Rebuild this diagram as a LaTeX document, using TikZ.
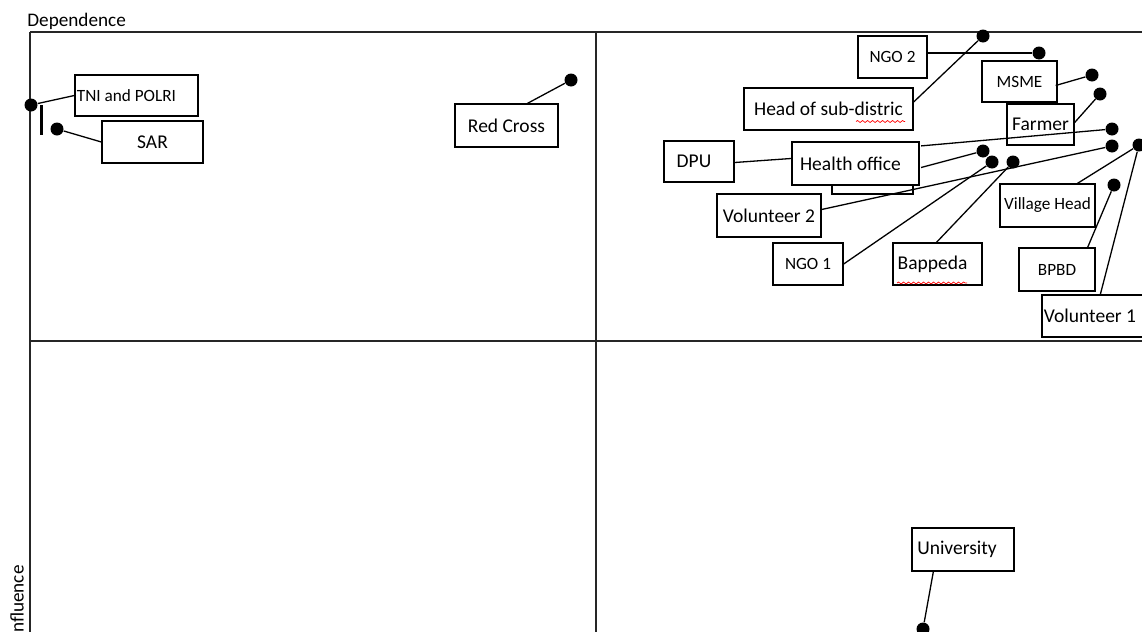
\documentclass[tikz,border=0pt]{standalone}
\usepackage{fontspec}
\setmainfont{Carlito}
\usetikzlibrary{calc,decorations.pathmorphing}
\newcommand{\padr}[1]{\rule{#1}{0pt}}
\begin{document}
\begin{tikzpicture}[x=0.5pt,y=-0.5pt,
  box/.style={draw, line width=0.65pt, inner sep=0pt, font=\fontsize{9.75}{11}\selectfont},
  sbox/.style={box, font=\fontsize{8.6}{10}\selectfont},
  dot/.style={circle, fill, inner sep=0pt, minimum size=6.5pt},
  con/.style={line width=0.65pt},
  gridline/.style={line width=0.6pt, draw=black!85},
  axislabel/.style={font=\fontsize{9.6}{11}\selectfont, inner sep=0pt},
  spell/.style={draw=red, line width=0.35pt, decorate, decoration={snake, amplitude=0.5pt, segment length=2.5pt}}]
\useasboundingbox (0,0) rectangle (1142,632);
% grid
\draw[gridline] (30,32) -- (1142,32);
\draw[gridline] (30,32) -- (30,632);
\draw[gridline] (596,32) -- (596,632);
\draw[gridline] (30,341) -- (1142,341);
% axis labels
\node[axislabel, anchor=west] (dep) at (27,21) {Dependence};
\node[axislabel, rotate=90, anchor=east] (inf) at (17,565) {Influence};
% boxes
\node[sbox, minimum width=61.5pt, minimum height=20.5pt] (tni) at (136.5,95.5) {TNI and POLRI\padr{10pt}};
\node[box, minimum width=50.5pt, minimum height=21pt] (sar) at (152.5,142) {SAR};
\node[box, minimum width=51.5pt, minimum height=21.5pt] (rc) at (506.5,125.5) {Red Cross};
\node[sbox, minimum width=34.5pt, minimum height=21pt] (ngo2) at (892.5,57) {NGO 2};
\node[box, minimum width=84.5pt, minimum height=21pt] (hsd) at (828.5,109) {Head of sub-distric};
\node[sbox, minimum width=37.5pt, minimum height=20.5pt] (msme) at (1019.5,81.5) {MSME};
\node[box, minimum width=33.5pt, minimum height=20.5pt] (farmer) at (1040.5,124.5) {Farmer};
\node[box, minimum width=35pt, minimum height=20.5pt] (dpu) at (699,161.5) {DPU\padr{5pt}};
\node[box, minimum width=40.5pt, minimum height=22pt] (hid) at (872.5,172) {};
\node[box, fill=white, line width=1.1pt, minimum width=63.5pt, minimum height=21.5pt] (ho) at (855.5,163.5) {Health office\padr{5pt}};
\node[box, minimum width=52pt, minimum height=21.5pt] (vol2) at (769,215.5) {Volunteer 2};
\node[sbox, minimum width=35pt, minimum height=21pt] (ngo1) at (808,264) {NGO 1};
\node[box, minimum width=44.5pt, minimum height=21pt] (bap) at (937.5,264) {Bappeda\padr{5pt}};
\node[sbox, minimum width=47.5pt, minimum height=21.5pt] (vh) at (1047.5,205.5) {Village Head};
\node[sbox, minimum width=38pt, minimum height=21.5pt] (bpbd) at (1057,269.5) {BPBD};
\node[box, minimum width=54pt, minimum height=21pt] (vol1) at (1096,316) {Volunteer 1\padr{6pt}};
\node[box, minimum width=51pt, minimum height=21.5pt] (uni) at (963,549.5) {University\padr{6pt}};
% spell-check underlines
\draw[spell] (856,121.5) -- (905,121.5);
\draw[spell] (897,283) -- (967,283);
% dots
\node[dot] (dtni) at (31,105) {};
\node[dot] (dsar) at (57,129) {};
\node[dot] (drc) at (571,80) {};
\node[dot] (dhsd) at (983,36) {};
\node[dot] (dngo2) at (1039,53) {};
\node[dot] (dmsme) at (1092,75) {};
\node[dot] (dfarmer) at (1100,94) {};
\node[dot] (dhoa) at (1112,129) {};
\node[dot] (dhob) at (983,151) {};
\node[dot] (dngo1) at (992,162) {};
\node[dot] (dbap) at (1013,162) {};
\node[dot] (dvol2) at (1112,146) {};
\node[dot] (dright) at (1139,145) {};
\node[dot] (dbpbd) at (1114,185) {};
\node[dot] (duni) at (923,629) {};
% connectors
\draw[con] (dtni) -- (tni.west);
\draw[line width=1.5pt] (dtni.center -| 41,0) coordinate (bartop) -- (41,135) coordinate (barbot);
\draw[con] (dsar) -- (sar.west);
\draw[con] (drc) -- ($(rc.north)+(21,0)$);
\draw[con] ($(hsd.east)+(0,-7)$) -- (dhsd);
\draw[con] (ngo2.east |- dngo2) -- (dngo2);
\draw[con] ($(msme.east)+(-2,4)$) -- (dmsme);
\draw[con] ($(farmer.east)+(0,-2)$) -- (dfarmer);
\draw[con] ($(ho.north east)+(1,5)$) -- (dhoa);
\draw[con] ($(ho.east)+(1,4)$) -- (dhob);
\draw[con] ($(dpu.east)+(0,1)$) -- ($(ho.west)+(0,-5)$);
\draw[con] (ngo1.east) -- (dngo1);
\draw[con] ($(bap.north)+(-1,0)$) -- (dbap);
\draw[con] ($(vol2.east)+(0,-6)$) -- (dvol2);
\draw[con] ($(vh.north)+(30,0)$) -- (dright);
\draw[con] ($(vol1.north west)+(59,0)$) -- (dright);
\draw[con] ($(bpbd.north east)+(-8,0)$) -- (dbpbd);
\draw[con] ($(uni.south west)+(22,0)$) -- (duni);
\end{tikzpicture}
\end{document}
